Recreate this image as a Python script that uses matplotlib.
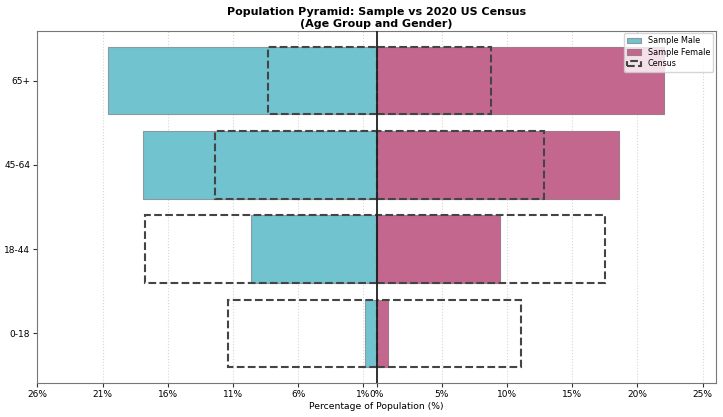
import matplotlib
matplotlib.use('Agg')
import matplotlib.pyplot as plt
import numpy as np

# Data (percent of population)
age_groups = ['0-18', '18-44', '45-64', '65+']
sample_male = [0.9, 9.6, 17.9, 20.55]
sample_female = [0.9, 9.5, 18.6, 22.0]
census_male = [11.4, 17.75, 12.4, 8.3]
census_female = [11.05, 17.5, 12.85, 8.75]

left_ticks = [-26, -21, -16, -11, -6, -1]
right_ticks = [0, 5, 10, 15, 20, 25]

fig, ax = plt.subplots(figsize=(7.23, 4.17), dpi=100)
fig.subplots_adjust(left=0.0516, right=0.99, top=0.926, bottom=0.0815)

y = np.arange(len(age_groups))

ax.barh(y, [-v for v in sample_male], height=0.8, color='#72C3D0',
        edgecolor='#8a9a9e', linewidth=0.8, label='Sample Male', zorder=2)
ax.barh(y, sample_female, height=0.8, color='#C4678F',
        edgecolor='#9e7a8a', linewidth=0.8, label='Sample Female', zorder=2)

# census outlines
ax.barh(y, [-v for v in census_male], height=0.8, fill=False,
        edgecolor='#444444', linestyle='--', linewidth=1.5, label='Census', zorder=3)
ax.barh(y, census_female, height=0.8, fill=False,
        edgecolor='#444444', linestyle='--', linewidth=1.5, zorder=3)

ax.axvline(0, color='#222222', linewidth=1.3, zorder=4)

ticks = left_ticks + right_ticks
ax.set_xticks(ticks)
ax.set_xticklabels([f'{abs(t)}%' for t in ticks], fontsize=6.5)
ax.set_xlim(-26, 26)
ax.set_yticks(y)
ax.set_yticklabels(age_groups, fontsize=6.5)
ax.set_xlabel('Percentage of Population (%)', fontsize=6.7, labelpad=2)
ax.set_title('Population Pyramid: Sample vs 2020 US Census\n(Age Group and Gender)',
             fontsize=8, fontweight='bold', linespacing=1.2, pad=3)
ax.grid(axis='x', linestyle=':', color='#cccccc', alpha=0.8, zorder=0)
ax.set_axisbelow(True)
for s in ax.spines.values():
    s.set_color('#777777')
ax.tick_params(colors='#333333', labelcolor='black', length=3, pad=2)

ax.legend(loc='upper right', fontsize=5.8, framealpha=0.8, handlelength=1.8,
          borderaxespad=0.3, labelspacing=0.3)

plt.savefig('out.png', dpi=100)
